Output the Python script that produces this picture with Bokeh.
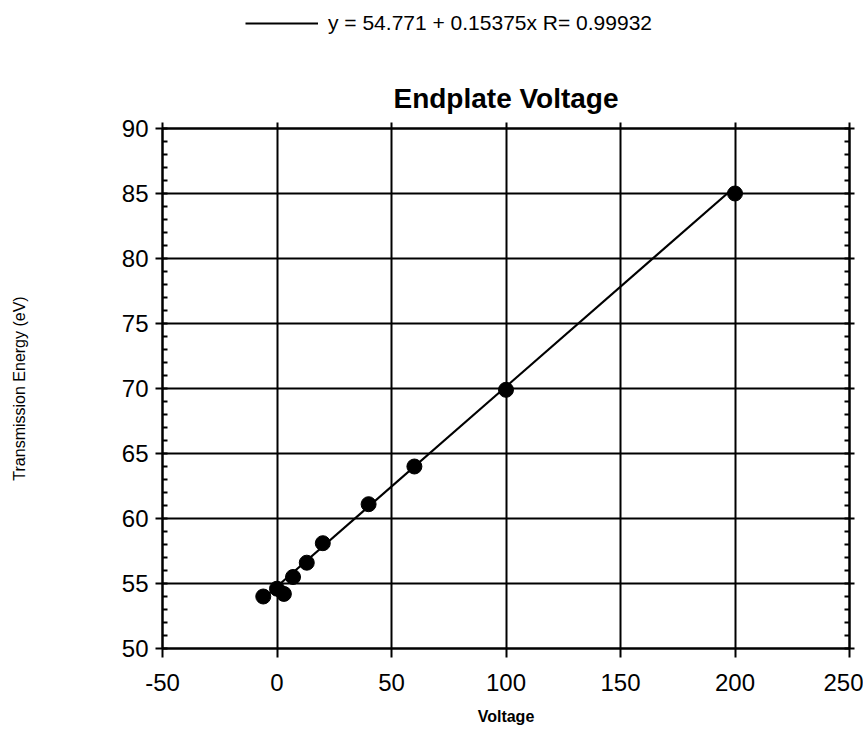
from bokeh.plotting import figure
from bokeh.layouts import column
from bokeh.models import (FixedTicker, LinearAxis, Range1d, Legend, LegendItem,
                          CustomJSTickFormatter)
from bokeh.embed import file_html
from bokeh.resources import INLINE

# ---- data ----
voltage = [-6, 0, 3, 7, 13, 20, 40, 60, 100, 200]
energy = [54.0, 54.6, 54.2, 55.5, 56.6, 58.1, 61.1, 64.0, 69.9, 85.0]

intercept = 54.771
slope = 0.15375
r_value = 0.99932
fit_label = "y = 54.771 + 0.15375x R= 0.99932"

x_ticks = [-50, 0, 50, 100, 150, 200, 250]
x_tick_labels = ["-50", "0", "50", "100", "150", "200", "250"]
y_ticks = [50, 55, 60, 65, 70, 75, 80, 85, 90]
y_tick_labels = ["50", "55", "60", "65", "70", "75", "80", "85", "90"]
y_minor = list(range(50, 91))

title_text = "Endplate Voltage"
x_label = "Voltage"
y_label = "Transmission Energy (eV)"

FONT = "Liberation Sans"
LEG_H = 45

fit_x = [min(voltage), max(voltage)]
fit_y = [intercept + slope * v for v in fit_x]

# ---- legend strip (frame is aligned with the main frame by the column) ----
leg = figure(width=863, height=LEG_H, output_backend="svg", toolbar_location=None,
             x_range=Range1d(0, 1), y_range=Range1d(0, 1),
             min_border=0, min_border_left=0, min_border_right=0,
             min_border_top=0, min_border_bottom=0,
             x_axis_location=None, y_axis_location=None)
leg.outline_line_color = None
leg.xgrid.visible = False
leg.ygrid.visible = False
leg_r = leg.line(fit_x, fit_y, line_color="black", line_width=2)
legend = Legend(items=[LegendItem(label=fit_label, renderers=[leg_r])],
                location=(83, 10), padding=0, margin=0, spacing=0,
                glyph_width=73, glyph_height=20, label_standoff=10,
                border_line_color=None, background_fill_alpha=0,
                label_text_font=FONT, label_text_font_size="21px",
                label_text_color="black")
leg.add_layout(legend, "center")

# ---- main chart ----
p = figure(width=863, height=738 - LEG_H, output_backend="svg", toolbar_location=None,
           x_range=Range1d(-50, 250), y_range=Range1d(50, 90),
           min_border_left=162, min_border_right=14, min_border_top=128 - LEG_H,
           min_border_bottom=90, x_axis_location=None, y_axis_location=None)

p.title.text = title_text
p.title.align = "center"
p.title.text_font = FONT
p.title.text_font_size = "28px"
p.title.text_font_style = "bold"
p.title.text_color = "black"
p.title.offset = 0
p.title.standoff = 18

p.outline_line_color = "black"
p.outline_line_width = 2
p.background_fill_color = "white"
p.border_fill_color = "white"

p.line(fit_x, fit_y, line_color="black", line_width=2.2)
p.scatter(voltage, energy, size=15, fill_color="black", line_color="black")

xt = FixedTicker(ticks=x_ticks)
yt = FixedTicker(ticks=y_ticks, minor_ticks=y_minor)
blank = CustomJSTickFormatter(code="return '';")

def style(ax):
    ax.axis_line_color = "black"
    ax.axis_line_width = 2
    ax.major_tick_line_color = "black"
    ax.major_tick_line_width = 2
    ax.minor_tick_line_color = "black"
    ax.minor_tick_line_width = 2
    ax.major_label_text_font = FONT
    ax.major_label_text_color = "black"
    ax.major_label_text_font_size = "24px"
    ax.axis_label_text_font = FONT
    ax.axis_label_text_color = "black"
    ax.axis_label_text_font_style = "normal"

bottom = LinearAxis(ticker=xt, axis_label=x_label)
style(bottom)
bottom.major_label_overrides = dict(zip(x_ticks, x_tick_labels))
bottom.major_tick_in = 0
bottom.major_tick_out = 9
bottom.minor_tick_in = 0
bottom.minor_tick_out = 0
bottom.major_label_standoff = 16
bottom.axis_label_text_font_size = "16px"
bottom.axis_label_text_font_style = "bold"
bottom.axis_label_standoff = 14
p.add_layout(bottom, "below")

top = LinearAxis(ticker=xt, formatter=blank)
style(top)
top.major_tick_in = 0
top.major_tick_out = 6
top.minor_tick_in = 0
top.minor_tick_out = 0
top.major_label_standoff = 0
p.add_layout(top, "above")

left = LinearAxis(ticker=yt, axis_label=y_label)
style(left)
left.major_label_overrides = dict(zip(y_ticks, y_tick_labels))
left.major_tick_in = 0
left.major_tick_out = 7
left.minor_tick_in = 5
left.minor_tick_out = 0
left.major_label_standoff = 7
left.axis_label_text_font_size = "16px"
left.axis_label_standoff = 91
p.add_layout(left, "left")

right = LinearAxis(ticker=yt, formatter=blank)
style(right)
right.major_tick_in = 0
right.major_tick_out = 5
right.minor_tick_in = 5
right.minor_tick_out = 0
right.major_label_standoff = 0
p.add_layout(right, "right")

p.xgrid.ticker = xt
p.ygrid.ticker = yt
for g in (p.xgrid, p.ygrid):
    g.grid_line_color = "black"
    g.grid_line_width = 2
    g.grid_line_alpha = 1.0

layout = column(leg, p, spacing=0)
open("out.html", "w").write(file_html(layout, INLINE))
